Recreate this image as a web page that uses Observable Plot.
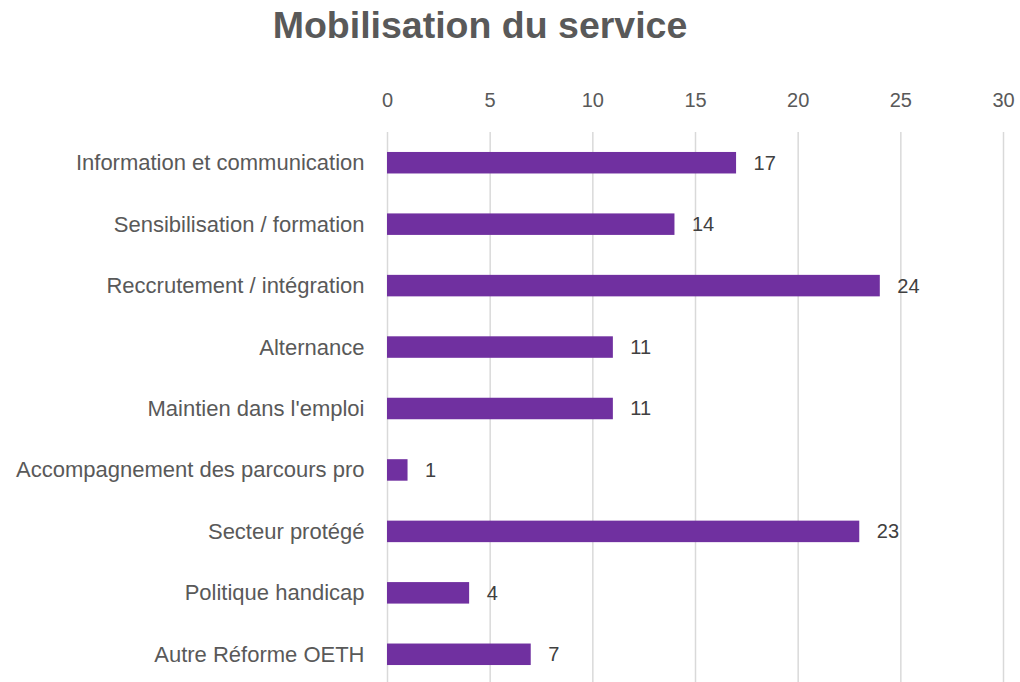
<!DOCTYPE html>
<html>
<head>
<meta charset="utf-8">
<script src="https://cdn.jsdelivr.net/npm/d3@7"></script>
<script src="https://cdn.jsdelivr.net/npm/@observablehq/plot@0.6"></script>
<style>
  html, body { margin: 0; padding: 0; background: #fff; overflow: hidden; }
  #title { height: 50px; line-height: 50px; text-align: center; font-family: "Liberation Sans", Arial, sans-serif; font-weight: bold; font-size: 37.5px; color: #595959; width: 960px; }
</style>
</head>
<body>
<div id="title">Mobilisation du service</div>
<div id="chart"></div>
<script>
const categories = [
  "Information et communication",
  "Sensibilisation / formation",
  "Reccrutement / intégration",
  "Alternance",
  "Maintien dans l'emploi",
  "Accompagnement des parcours pro",
  "Secteur protégé",
  "Politique handicap",
  "Autre Réforme OETH"
];
const values = [17, 14, 24, 11, 11, 1, 23, 4, 7];
const xTicks = [0, 5, 10, 15, 20, 25, 30];

const data = categories.map((c, i) => ({category: c, value: values[i]}));
const font = "'Liberation Sans', Arial, sans-serif";

const chart = Plot.plot({
  width: 1020,
  height: 635,
  marginTop: 82,
  marginBottom: 0,
  marginLeft: 387,
  marginRight: 17,
  style: {fontFamily: font, fontSize: "20px", color: "#595959", background: "#fff"},
  x: {domain: [0, 30], ticks: xTicks, label: null},
  y: {domain: categories, label: null, paddingInner: 0.65, paddingOuter: 0.325, round: false},
  marks: [
    Plot.gridX(xTicks, {stroke: "#d9d9d9", strokeWidth: 1.5, strokeOpacity: 1}),
    Plot.axisX(xTicks, {anchor: "top", tickSize: 0, tickPadding: 26, fontSize: 20, fill: "#595959", label: null}),
    Plot.axisY({tickSize: 0, tickPadding: 23, fontSize: 22, fill: "#595959", label: null}),
    Plot.barX(data, {x: "value", y: "category", fill: "#7030A0"}),
    Plot.text(data, {x: "value", y: "category", text: d => String(d.value), textAnchor: "start", dx: 17, fill: "#404040", fontSize: 20})
  ]
});
document.getElementById("chart").appendChild(chart);
</script>
</body>
</html>
